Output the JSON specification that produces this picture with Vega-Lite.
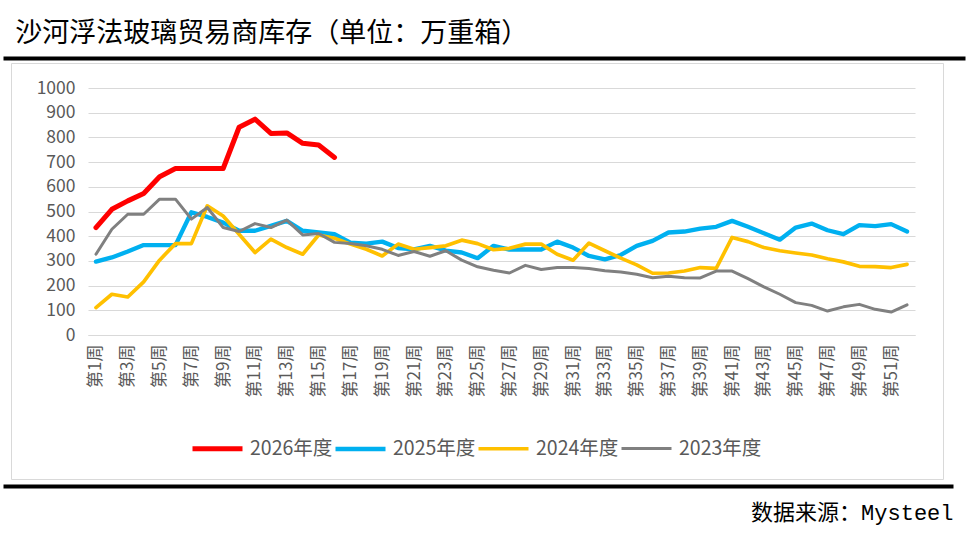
{
  "$schema": "https://vega.github.io/schema/vega-lite/v6.json",
  "padding": {"left": 0, "top": 20, "right": 0, "bottom": 10},
  "background": "white",
  "config": {"font": "Noto Sans CJK SC", "view": {"stroke": null}},
  "title": {"text": "沙河浮法玻璃贸易商库存（单位：万重箱）", "anchor": "start", "frame": "bounds", "fontSize": 27, "fontWeight": "normal", "color": "#000000", "dx": 15, "offset": 10, "font": "Noto Sans CJK SC"},
  "width": 827,
  "height": 247,
  "resolve": {"scale": {"x": "independent", "y": "independent"}, "axis": {"x": "independent", "y": "independent"}},
  "layer": [
    {
      "data": {"values": [
        {"year":"2026年度","week":1,"value":435},{"year":"2026年度","week":2,"value":509},{"year":"2026年度","week":3,"value":543},{"year":"2026年度","week":4,"value":573},{"year":"2026年度","week":5,"value":641},{"year":"2026年度","week":6,"value":674},{"year":"2026年度","week":7,"value":674},{"year":"2026年度","week":8,"value":674},{"year":"2026年度","week":9,"value":674},{"year":"2026年度","week":10,"value":841},{"year":"2026年度","week":11,"value":874},{"year":"2026年度","week":12,"value":816},{"year":"2026年度","week":13,"value":818},{"year":"2026年度","week":14,"value":776},{"year":"2026年度","week":15,"value":769},{"year":"2026年度","week":16,"value":719},
        {"year":"2025年度","week":1,"value":297},{"year":"2025年度","week":2,"value":314},{"year":"2025年度","week":3,"value":338},{"year":"2025年度","week":4,"value":364},{"year":"2025年度","week":5,"value":364},{"year":"2025年度","week":6,"value":364},{"year":"2025年度","week":7,"value":497},{"year":"2025年度","week":8,"value":478},{"year":"2025年度","week":9,"value":455},{"year":"2025年度","week":10,"value":422},{"year":"2025年度","week":11,"value":422},{"year":"2025年度","week":12,"value":442},{"year":"2025年度","week":13,"value":462},{"year":"2025年度","week":14,"value":422},{"year":"2025年度","week":15,"value":415},{"year":"2025年度","week":16,"value":408},{"year":"2025年度","week":17,"value":374},{"year":"2025年度","week":18,"value":370},{"year":"2025年度","week":19,"value":378},{"year":"2025年度","week":20,"value":352},{"year":"2025年度","week":21,"value":347},{"year":"2025年度","week":22,"value":361},{"year":"2025年度","week":23,"value":342},{"year":"2025年度","week":24,"value":334},{"year":"2025年度","week":25,"value":311},{"year":"2025年度","week":26,"value":361},{"year":"2025年度","week":27,"value":346},{"year":"2025年度","week":28,"value":346},{"year":"2025年度","week":29,"value":346},{"year":"2025年度","week":30,"value":378},{"year":"2025年度","week":31,"value":354},{"year":"2025年度","week":32,"value":320},{"year":"2025年度","week":33,"value":306},{"year":"2025年度","week":34,"value":324},{"year":"2025年度","week":35,"value":361},{"year":"2025年度","week":36,"value":381},{"year":"2025年度","week":37,"value":415},{"year":"2025年度","week":38,"value":419},{"year":"2025年度","week":39,"value":431},{"year":"2025年度","week":40,"value":438},{"year":"2025年度","week":41,"value":462},{"year":"2025年度","week":42,"value":438},{"year":"2025年度","week":43,"value":412},{"year":"2025年度","week":44,"value":386},{"year":"2025年度","week":45,"value":435},{"year":"2025年度","week":46,"value":451},{"year":"2025年度","week":47,"value":424},{"year":"2025年度","week":48,"value":408},{"year":"2025年度","week":49,"value":445},{"year":"2025年度","week":50,"value":441},{"year":"2025年度","week":51,"value":449},{"year":"2025年度","week":52,"value":419},
        {"year":"2024年度","week":1,"value":111},{"year":"2024年度","week":2,"value":165},{"year":"2024年度","week":3,"value":154},{"year":"2024年度","week":4,"value":215},{"year":"2024年度","week":5,"value":303},{"year":"2024年度","week":6,"value":370},{"year":"2024年度","week":7,"value":370},{"year":"2024年度","week":8,"value":523},{"year":"2024年度","week":9,"value":482},{"year":"2024年度","week":10,"value":408},{"year":"2024年度","week":11,"value":334},{"year":"2024年度","week":12,"value":388},{"year":"2024年度","week":13,"value":354},{"year":"2024年度","week":14,"value":327},{"year":"2024年度","week":15,"value":405},{"year":"2024年度","week":16,"value":392},{"year":"2024年度","week":17,"value":368},{"year":"2024年度","week":18,"value":347},{"year":"2024年度","week":19,"value":320},{"year":"2024年度","week":20,"value":368},{"year":"2024年度","week":21,"value":347},{"year":"2024年度","week":22,"value":354},{"year":"2024年度","week":23,"value":361},{"year":"2024年度","week":24,"value":384},{"year":"2024年度","week":25,"value":370},{"year":"2024年度","week":26,"value":345},{"year":"2024年度","week":27,"value":351},{"year":"2024年度","week":28,"value":368},{"year":"2024年度","week":29,"value":368},{"year":"2024年度","week":30,"value":327},{"year":"2024年度","week":31,"value":303},{"year":"2024年度","week":32,"value":372},{"year":"2024年度","week":33,"value":341},{"year":"2024年度","week":34,"value":311},{"year":"2024年度","week":35,"value":284},{"year":"2024年度","week":36,"value":250},{"year":"2024年度","week":37,"value":251},{"year":"2024年度","week":38,"value":259},{"year":"2024年度","week":39,"value":273},{"year":"2024年度","week":40,"value":270},{"year":"2024年度","week":41,"value":395},{"year":"2024年度","week":42,"value":378},{"year":"2024年度","week":43,"value":354},{"year":"2024年度","week":44,"value":341},{"year":"2024年度","week":45,"value":332},{"year":"2024年度","week":46,"value":324},{"year":"2024年度","week":47,"value":309},{"year":"2024年度","week":48,"value":296},{"year":"2024年度","week":49,"value":278},{"year":"2024年度","week":50,"value":277},{"year":"2024年度","week":51,"value":273},{"year":"2024年度","week":52,"value":286},
        {"year":"2023年度","week":1,"value":327},{"year":"2023年度","week":2,"value":428},{"year":"2023年度","week":3,"value":489},{"year":"2023年度","week":4,"value":489},{"year":"2023年度","week":5,"value":550},{"year":"2023年度","week":6,"value":550},{"year":"2023年度","week":7,"value":469},{"year":"2023年度","week":8,"value":516},{"year":"2023年度","week":9,"value":435},{"year":"2023年度","week":10,"value":419},{"year":"2023年度","week":11,"value":451},{"year":"2023年度","week":12,"value":435},{"year":"2023年度","week":13,"value":465},{"year":"2023年度","week":14,"value":405},{"year":"2023年度","week":15,"value":411},{"year":"2023年度","week":16,"value":375},{"year":"2023年度","week":17,"value":370},{"year":"2023年度","week":18,"value":361},{"year":"2023年度","week":19,"value":347},{"year":"2023年度","week":20,"value":322},{"year":"2023年度","week":21,"value":338},{"year":"2023年度","week":22,"value":319},{"year":"2023年度","week":23,"value":341},{"year":"2023年度","week":24,"value":303},{"year":"2023年度","week":25,"value":276},{"year":"2023年度","week":26,"value":262},{"year":"2023年度","week":27,"value":251},{"year":"2023年度","week":28,"value":282},{"year":"2023年度","week":29,"value":265},{"year":"2023年度","week":30,"value":273},{"year":"2023年度","week":31,"value":273},{"year":"2023年度","week":32,"value":269},{"year":"2023年度","week":33,"value":260},{"year":"2023年度","week":34,"value":255},{"year":"2023年度","week":35,"value":246},{"year":"2023年度","week":36,"value":232},{"year":"2023年度","week":37,"value":238},{"year":"2023年度","week":38,"value":232},{"year":"2023年度","week":39,"value":231},{"year":"2023年度","week":40,"value":259},{"year":"2023年度","week":41,"value":259},{"year":"2023年度","week":42,"value":228},{"year":"2023年度","week":43,"value":195},{"year":"2023年度","week":44,"value":165},{"year":"2023年度","week":45,"value":131},{"year":"2023年度","week":46,"value":120},{"year":"2023年度","week":47,"value":97},{"year":"2023年度","week":48,"value":114},{"year":"2023年度","week":49,"value":124},{"year":"2023年度","week":50,"value":104},{"year":"2023年度","week":51,"value":93},{"year":"2023年度","week":52,"value":122}
      ]},
      "mark": {"type": "line", "strokeJoin": "round", "strokeCap": "round"},
      "encoding": {
        "x": {"field": "week", "type": "ordinal", "scale": {"padding": 0.5},
          "axis": {"orient": "bottom", "values": [1,3,5,7,9,11,13,15,17,19,21,23,25,27,29,31,33,35,37,39,41,43,45,47,49,51], "labelExpr": "'第' + datum.value + '周'", "labelAngle": -90, "labelFontSize": 17, "labelColor": "#595959", "domainColor": "#d9d9d9", "ticks": false, "title": null, "grid": false, "labelPadding": 9, "labelFont": "Noto Sans CJK SC"}},
        "y": {"field": "value", "type": "quantitative", "scale": {"domain": [0, 1000]},
          "axis": {"orient": "left", "values": [0,100,200,300,400,500,600,700,800,900,1000], "format": "d", "title": null, "domain": false, "ticks": false, "labelFontSize": 17.5, "labelColor": "#595959", "gridColor": "#d9d9d9", "labelPadding": 13, "labelFont": "Noto Sans CJK SC"}},
        "color": {"field": "year", "type": "nominal",
          "scale": {"domain": ["2026年度","2025年度","2024年度","2023年度"], "range": ["#FF0000","#00B0F0","#FFC000","#808080"]},
          "legend": {"orient": "none", "legendX": 102, "legendY": 333, "direction": "horizontal", "columns": 4, "title": null, "labelFontSize": 19.5, "labelColor": "#595959", "labelFont": "Noto Sans CJK SC", "symbolType": "stroke", "symbolStrokeWidth": 5, "symbolSize": 2500, "columnPadding": -7, "labelOffset": 5}},
        "strokeWidth": {"field": "year", "type": "nominal",
          "scale": {"domain": ["2026年度","2025年度","2024年度","2023年度"], "range": [5, 3, 3, 3]}, "legend": null}
      }
    },
    {
      "data": {"values": [{}]},
      "mark": {"type": "point", "opacity": 0},
      "encoding": {
        "x": {"datum": 0, "type": "quantitative", "scale": {"domain": [0, 1], "range": [-77, 855]},
          "axis": {"orient": "top", "offset": 25, "domainColor": "#d9d9d9", "domainWidth": 1, "ticks": false, "labels": false, "grid": false, "title": null}},
        "y": {"datum": 0, "type": "quantitative", "scale": {"domain": [0, 1], "range": [391, -25]},
          "axis": {"orient": "left", "offset": 77, "domainColor": "#d9d9d9", "domainWidth": 1, "ticks": false, "labels": false, "grid": false, "title": null}}
      }
    },
    {
      "data": {"values": [{}]},
      "mark": {"type": "point", "opacity": 0},
      "encoding": {
        "x": {"datum": 0, "type": "quantitative", "scale": {"domain": [0, 1], "range": [-77, 855]},
          "axis": {"orient": "bottom", "offset": 144, "domainColor": "#d9d9d9", "domainWidth": 1, "ticks": false, "labels": false, "grid": false, "title": null}},
        "y": {"datum": 0, "type": "quantitative", "scale": {"domain": [0, 1], "range": [391, -25]},
          "axis": {"orient": "right", "offset": 28, "domainColor": "#d9d9d9", "domainWidth": 1, "ticks": false, "labels": false, "grid": false, "title": null}}
      }
    },
    {
      "data": {"values": [{}]},
      "mark": {"type": "point", "opacity": 0},
      "encoding": {
        "x": {"datum": 0, "type": "quantitative", "scale": {"domain": [0, 1], "range": [-85, 877]},
          "axis": {"orient": "top", "offset": 30, "domainColor": "#000000", "domainWidth": 4, "ticks": false, "labels": false, "grid": false, "title": null}}
      }
    },
    {
      "data": {"values": [{}]},
      "mark": {"type": "point", "opacity": 0},
      "encoding": {
        "x": {"datum": 0, "type": "quantitative", "scale": {"domain": [0, 1], "range": [-85, 865]},
          "axis": {"orient": "bottom", "offset": 151, "domainColor": "#000000", "domainWidth": 4, "ticks": false, "labels": false, "grid": false,
            "title": "数据来源：Mysteel", "titleAnchor": "end", "titleAlign": "right", "titleFontSize": 22, "titleFontWeight": "normal", "titleFont": "Liberation Mono, Noto Sans CJK SC", "titleColor": "#000000", "titlePadding": 16}}
      }
    }
  ]
}
